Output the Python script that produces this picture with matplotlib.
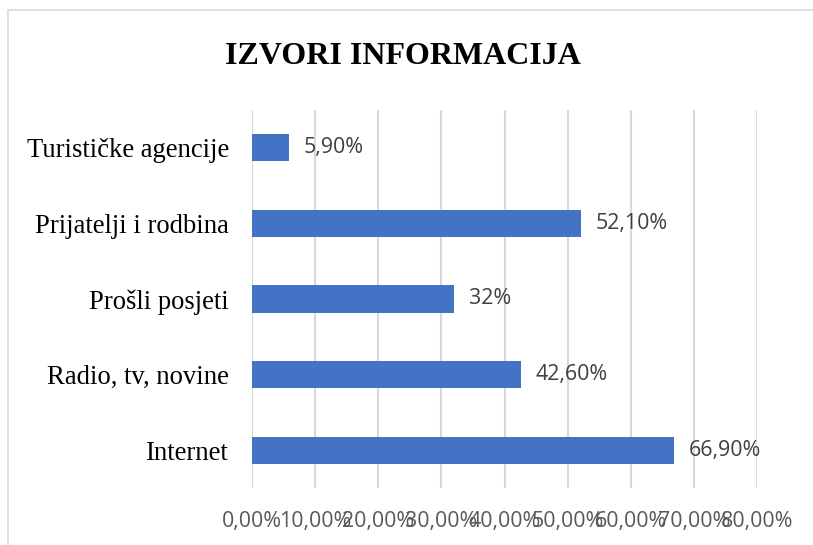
import matplotlib
matplotlib.use("Agg")
import matplotlib.pyplot as plt
from matplotlib.patches import Rectangle
from matplotlib.ticker import FuncFormatter

# Podaci
categories = ["Internet", "Radio, tv, novine", "Prošli posjeti",
              "Prijatelji i rodbina", "Turističke agencije"]
values = [66.9, 42.6, 32.0, 52.1, 5.9]
value_labels = ["66,90%", "42,60%", "32%", "52,10%", "5,90%"]
x_ticks = [0, 10, 20, 30, 40, 50, 60, 70, 80]

fig = plt.figure(figsize=(8.13, 5.45), dpi=100)
fig.patch.set_facecolor("white")

# okvir grafikona
fig.patches.append(Rectangle((8 / 813, -0.01), 1.0, 1 - 10 / 545 + 0.01,
                             transform=fig.transFigure, fill=False,
                             edgecolor="#d9d9d9", linewidth=1.2))

ax = fig.add_axes([252 / 813, 1 - 488 / 545, (757 - 252) / 813, (488 - 110) / 545])

y = range(len(categories))
ax.barh(y, values, height=0.36, color="#4472c4", zorder=3)

for yi, v, lab in zip(y, values, value_labels):
    ax.text(v + 2.3, yi, lab, va="center", ha="left", fontsize=15.4,
            family="Open Sans", color="#404040")

ax.set_xlim(0, 80)
ax.set_ylim(-0.5, len(categories) - 0.5)
ax.set_xticks(x_ticks)
ax.xaxis.set_major_formatter(FuncFormatter(lambda v, p: f"{v:.2f}%".replace(".", ",")))
ax.set_yticks(list(y))
ax.set_yticklabels(categories, family="Liberation Serif", fontsize=19.2, color="#000000")

for lab in ax.get_xticklabels():
    lab.set_family("Open Sans")
    lab.set_fontsize(15.4)
    lab.set_color("#595959")

ax.tick_params(axis="both", length=0)
ax.tick_params(axis="x", pad=16.5)
ax.tick_params(axis="y", pad=16.5)
ax.grid(axis="x", color="#d9d9d9", linewidth=1.5, zorder=0)
for s in ax.spines.values():
    s.set_visible(False)

fig.text(403 / 813, 1 - 57 / 545, "IZVORI INFORMACIJA", ha="center", va="center",
         family="Liberation Serif", fontweight="bold", fontsize=23, color="black")

fig.savefig("out.png", dpi=100, facecolor="white")
